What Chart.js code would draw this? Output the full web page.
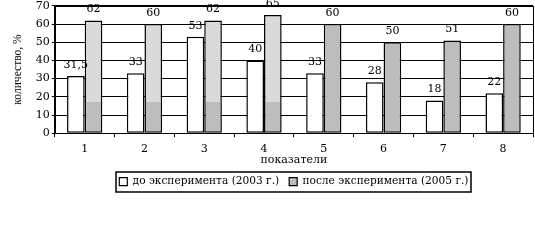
<!DOCTYPE html>
<html>
<head>
<meta charset="utf-8">
<script src="https://cdn.jsdelivr.net/npm/chart.js@4/dist/chart.umd.min.js"></script>
<style>
  html, body { margin: 0; padding: 0; background: #fff; }
  #wrap { width: 535px; height: 240px; }
</style>
</head>
<body>
<div id="wrap"><canvas id="grafica" width="535" height="240"></canvas></div>
<script>
// Datos de la gráfica
const categorias = ["1", "2", "3", "4", "5", "6", "7", "8"];
const antes = [31.5, 33, 53, 40, 33, 28, 18, 22];     // до эксперимента (2003 г.)
const despues = [62, 60, 62, 65, 60, 50, 51, 60];      // после эксперимента (2005 г.)
const ticksY = [0, 10, 20, 30, 40, 50, 60, 70];

const FONT = "'DejaVu Serif', serif";
const FONT_Y = "'Liberation Serif', serif";
const GRIS = '#bdbdbd';
const GRIS_CLARO = '#dadada';
const NIVEL_SOMBRA = 17;   // parte oscura de las barras 1-4
const BARRAS_SOMBRA = 4;

// color de las barras grises (las primeras con dos tonos)
function colorGris(ctx) {
  const chart = ctx.chart;
  if (!chart.chartArea || ctx.dataIndex >= BARRAS_SOMBRA) return GRIS;
  const y = chart.scales.y;
  const y0 = y.getPixelForValue(0), y1 = y.getPixelForValue(70);
  const g = chart.ctx.createLinearGradient(0, y0, 0, y1);
  const p = NIVEL_SOMBRA / 70;
  g.addColorStop(0, GRIS);
  g.addColorStop(p, GRIS);
  g.addColorStop(p, GRIS_CLARO);
  g.addColorStop(1, GRIS_CLARO);
  return g;
}

// etiquetas de valores encima de las barras
const etiquetasPlugin = {
  id: 'etiquetas',
  afterDatasetsDraw(chart) {
    const c = chart.ctx;
    c.save();
    c.font = '11px ' + FONT;
    c.fillStyle = '#000';
    c.textAlign = 'center';
    c.textBaseline = 'alphabetic';
    chart.data.datasets.forEach((ds, i) => {
      chart.getDatasetMeta(i).data.forEach((bar, j) => {
        c.fillText(String(ds.data[j]).replace('.', ','), bar.x, bar.y - 8);
      });
    });
    c.restore();
  }
};

// leyenda centrada bajo el área del gráfico
const centrarLeyenda = {
  id: 'centrarLeyenda',
  afterLayout(chart) {
    const a = chart.chartArea, l = chart.legend;
    const dx = (a.left + a.right) / 2 - (l.left + l.right) / 2;
    l.left += dx;
    l.right += dx;
  }
};

// marco del área y de la leyenda
const marcoPlugin = {
  id: 'marco',
  afterDraw(chart) {
    const c = chart.ctx, a = chart.chartArea, hb = chart.legend.legendHitBoxes;
    c.save();
    c.strokeStyle = '#000';
    c.lineWidth = 1;
    c.strokeRect(Math.round(a.left) + 0.5, Math.round(a.top) + 0.5,
      Math.round(a.right - a.left), Math.round(a.bottom - a.top));
    const ult = hb[hb.length - 1];
    const x0 = Math.round(hb[0].left) - 3;
    const x1 = Math.round(ult.left + ult.width) + 3;
    const y0 = Math.round(hb[0].top) - 4;
    c.lineWidth = 1.5;
    c.strokeRect(x0, y0, x1 - x0, 20);
    c.restore();
  }
};

const $grafica = document.getElementById('grafica');
const chart = new Chart($grafica, {
  type: 'bar',
  data: {
    labels: categorias,
    datasets: [
      {
        label: 'до эксперимента (2003 г.)',
        data: antes,
        backgroundColor: '#ffffff',
        borderColor: '#000',
        borderWidth: 1.5,
        borderSkipped: false,
      },
      {
        label: 'после эксперимента (2005 г.)',
        data: despues,
        backgroundColor: colorGris,
        borderColor: '#000',
        borderWidth: 1.5,
        borderSkipped: false,
      }
    ]
  },
  options: {
    responsive: false,
    animation: false,
    categoryPercentage: 0.59,
    barPercentage: 1.0,
    layout: { padding: { top: 0, right: 2, left: 11, bottom: 43 } },
    plugins: {
      tooltip: { enabled: false },
      legend: {
        position: 'bottom',
        labels: {
          font: { family: FONT, size: 10.6 },
          color: '#000',
          boxWidth: 8,
          boxHeight: 8,
          padding: 10,
          generateLabels(chart) {
            return chart.data.datasets.map((ds, i) => ({
              text: ds.label,
              fillStyle: i === 0 ? '#ffffff' : GRIS,
              strokeStyle: '#000',
              lineWidth: 1.2,
              datasetIndex: i,
            }));
          }
        }
      }
    },
    scales: {
      x: {
        grid: { drawOnChartArea: false, drawTicks: true, tickLength: 4, color: '#000', offset: true },
        border: { color: '#000', width: 1 },
        ticks: { color: '#000', font: { family: FONT, size: 11, lineHeight: 1 }, padding: 6, maxRotation: 0 },
        title: { display: true, text: 'показатели', color: '#000', font: { family: FONT, size: 11 }, padding: { top: -7, bottom: 0 } }
      },
      y: {
        min: 0,
        max: 70,
        afterBuildTicks(axis) { axis.ticks = ticksY.map(v => ({ value: v })); },
        grid: { color: '#000', lineWidth: 1, tickLength: 3 },
        border: { color: '#000', width: 1 },
        ticks: { color: '#000', font: { family: FONT, size: 11, lineHeight: 0.7 }, padding: 2 },
        title: { display: true, text: 'количество, %', color: '#000', font: { family: FONT_Y, size: 11.5 }, padding: { top: 0, bottom: 9 } }
      }
    }
  },
  plugins: [etiquetasPlugin, centrarLeyenda, marcoPlugin]
});
</script>
</body>
</html>
